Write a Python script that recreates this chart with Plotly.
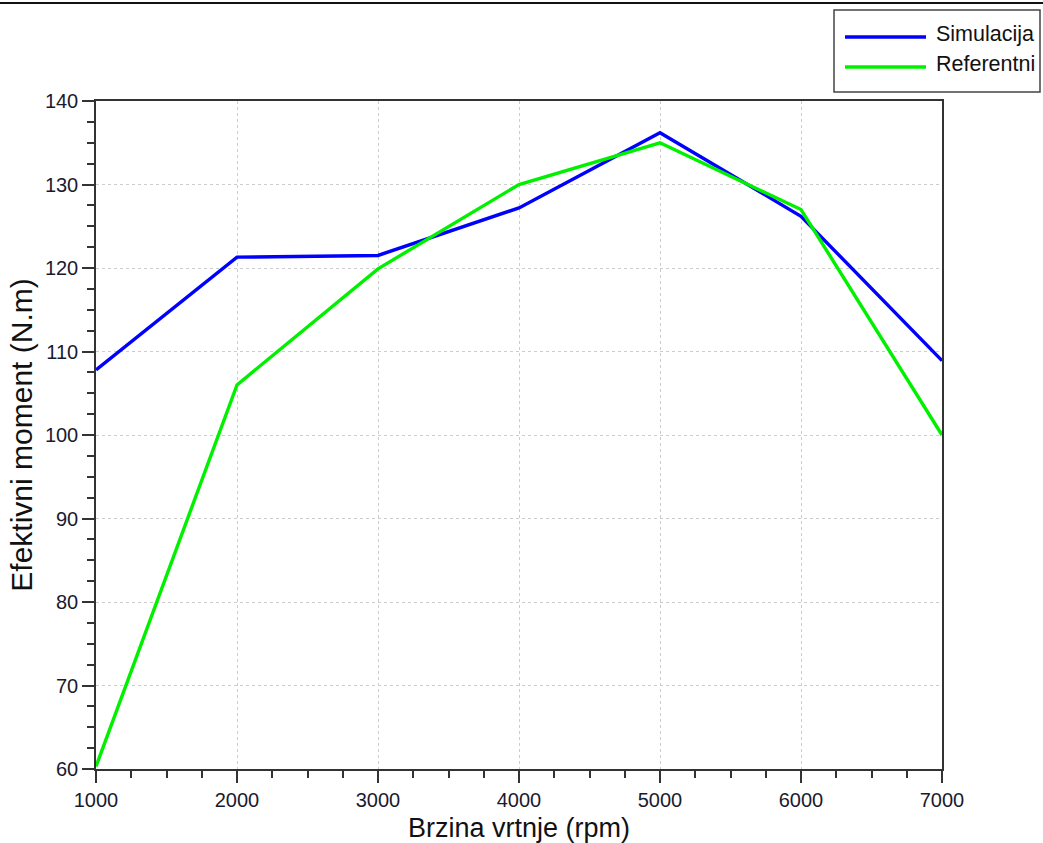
import plotly.graph_objects as go

rpm = [1000, 2000, 3000, 4000, 5000, 6000, 7000]
simulacija = [107.8, 121.3, 121.5, 127.2, 136.2, 126.2, 108.9]
referentni = [60.3, 106.0, 119.9, 130.0, 135.0, 127.0, 100.0]
series_names = ["Simulacija", "Referentni"]
series_colors = ["#0000ff", "#00f000"]

FONT = "Liberation Sans, Arial, sans-serif"

W, H = 1043, 843
L, R, T, B = 96, 101, 101, 74
pw, ph = W - L - R, H - T - B


def px(x):
    return (x - L) / pw


def py(y):
    return (H - B - y) / ph


fig = go.Figure()
for name, vals, col in zip(series_names, [simulacija, referentni], series_colors):
    fig.add_trace(go.Scatter(x=rpm, y=vals, mode="lines", name=name,
                             line=dict(color=col, width=3.4), showlegend=False))

axis_common = dict(
    showline=True, linecolor="#333333", linewidth=1.5, mirror=True,
    ticks="outside", ticklen=12, tickwidth=1.5, tickcolor="#333333",
    showgrid=True, gridcolor="#cccccc", griddash="dot", gridwidth=1,
    zeroline=False,
    tickfont=dict(family=FONT, size=20, color="#1a1a2e"),
)

fig.update_xaxes(
    range=[1000, 7000], tick0=1000, dtick=1000,
    minor=dict(ticks="outside", dtick=250, ticklen=7, tickwidth=1.5,
               tickcolor="#333333", showgrid=False),
    title=dict(text="Brzina vrtnje (rpm)", font=dict(family=FONT, size=27, color="#111111"),
               standoff=9),
    **axis_common,
)
fig.update_yaxes(
    range=[60, 140], tick0=60, dtick=10,
    minor=dict(ticks="outside", dtick=2.5, ticklen=7, tickwidth=1.5,
               tickcolor="#333333", showgrid=False),
    title=dict(text="Efektivni moment (N.m)", font=dict(family=FONT, size=30, color="#111111"),
               standoff=3),
    **axis_common,
)

shapes = [
    # top border line of the page
    dict(type="line", xref="paper", yref="paper",
         x0=px(0), x1=px(W), y0=py(3), y1=py(3),
         line=dict(color="#111111", width=2)),
    # legend box
    dict(type="rect", xref="paper", yref="paper",
         x0=px(834), x1=px(1040), y0=py(10), y1=py(92),
         line=dict(color="#444444", width=1.5), fillcolor="white"),
]
annotations = []
for i, (name, col) in enumerate(zip(series_names, series_colors)):
    yl = 37 + 30 * i
    shapes.append(dict(type="line", xref="paper", yref="paper",
                       x0=px(845), x1=px(926), y0=py(yl), y1=py(yl),
                       line=dict(color=col, width=3.5)))
    annotations.append(dict(text=name, xref="paper", yref="paper",
                            x=px(934), y=py(yl - 3), xanchor="left", yanchor="middle",
                            showarrow=False,
                            font=dict(family=FONT, size=21.5, color="#111111")))

fig.update_layout(
    width=W, height=H,
    margin=dict(l=L, r=R, t=T, b=B, autoexpand=False),
    paper_bgcolor="white", plot_bgcolor="white",
    showlegend=False,
    shapes=shapes,
    annotations=annotations,
)

fig.write_html("out.html", config={"displayModeBar": False},
               post_script="document.body.style.margin='0px';")
